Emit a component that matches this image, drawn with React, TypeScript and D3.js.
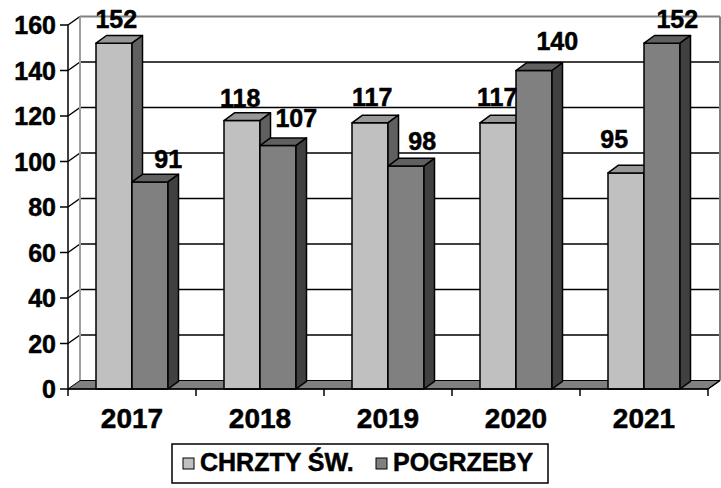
import * as d3 from "d3";

const years = ["2017", "2018", "2019", "2020", "2021"];
const seriesNames = ["CHRZTY ŚW.", "POGRZEBY"];
const chrzty = [152, 118, 117, 117, 95];
const pogrzeby = [91, 107, 98, 140, 152];
const yTicks = [0, 20, 40, 60, 80, 100, 120, 140, 160];

// label nudges (dx, extra lift), Excel moved them around
const lightNudge = [[-3, 0], [-7, -2], [-3, 1], [-6, 1], [-17, 9]];
const darkNudge = [[13, -2], [13, 3], [11, 0], [18, 5], [10, 0]];

const W = 721;
const H = 488;
const left = 68;
const right = 708;
const bottom = 389;
const top = 25;
const floorD = { dx: 12, dy: -8.5 };
const barD = { dx: 10.5, dy: -7.7 };

const palette = [
  { front: "#c0c0c0", top: "#979797", side: "#606060" },
  { front: "#808080", top: "#606060", side: "#404040" },
];

const FONT = "'Liberation Sans', Arial, sans-serif";
const textStyle = { fontFamily: FONT, fontWeight: "bold" as const, stroke: "#000", strokeWidth: 0.5 };

export default function App() {
  const x = d3.scaleBand<string>().domain(years).range([left, right]).paddingInner(0.4375).paddingOuter(0.21875);
  const sub = d3.scaleBand<number>().domain([0, 1]).range([0, x.bandwidth()]);
  const y = d3.scaleLinear().domain([0, 160]).range([bottom, top]);
  const step = x.step();
  const values = [chrzty, pogrzeby];
  const nudges = [lightNudge, darkNudge];
  const pts = (a: number[][]) => a.map((p) => p.join(",")).join(" ");

  return (
    <svg width={W} height={H} style={{ position: "absolute", left: 0, top: 0, background: "#fff" }}>
      {/* back wall gridlines */}
      {yTicks.slice(1).map((t) => (
        <g key={t}>
          <line x1={left} y1={y(t)} x2={left + floorD.dx} y2={y(t) + floorD.dy} stroke="#000" strokeWidth={1.5} />
          <line
            x1={left + floorD.dx}
            y1={y(t) + floorD.dy}
            x2={right + floorD.dx}
            y2={y(t) + floorD.dy}
            stroke={t === 160 ? "#808080" : "#000"}
            strokeWidth={t === 160 ? 2 : 1.5}
          />
        </g>
      ))}
      <line x1={left + floorD.dx} y1={bottom + floorD.dy} x2={left + floorD.dx} y2={y(160) + floorD.dy} stroke="#a0a0a0" strokeWidth={2} />
      <line x1={right + floorD.dx} y1={bottom + floorD.dy} x2={right + floorD.dx} y2={y(160) + floorD.dy} stroke="#808080" strokeWidth={2} />
      {/* floor */}
      <polygon
        points={pts([[left, bottom], [right, bottom], [right + floorD.dx, bottom + floorD.dy], [left + floorD.dx, bottom + floorD.dy]])}
        fill="#808080"
        stroke="#000"
        strokeWidth={1}
      />
      {/* bars */}
      {years.map((yr, i) => (
        <g key={yr}>
          {values.map((vals, s) => {
            const x0 = (x(yr) ?? 0) + (sub(s) ?? 0);
            const x1 = x0 + sub.bandwidth();
            const yt = y(vals[i]);
            const c = palette[s];
            return (
              <g key={s} stroke="#000" strokeWidth={1.5} strokeLinejoin="round">
                <rect x={x0} y={yt} width={x1 - x0} height={bottom - yt} fill={c.front} />
                <polygon points={pts([[x0, yt], [x1, yt], [x1 + barD.dx, yt + barD.dy], [x0 + barD.dx, yt + barD.dy]])} fill={c.top} />
                <polygon
                  points={pts([[x1, yt], [x1 + barD.dx, yt + barD.dy], [x1 + barD.dx, bottom + barD.dy], [x1, bottom]])}
                  fill={c.side}
                />
              </g>
            );
          })}
        </g>
      ))}
      {/* axes */}
      <line x1={left} y1={y(160)} x2={left} y2={bottom + 7} stroke="#000" strokeWidth={1.5} />
      <line x1={left} y1={bottom} x2={right} y2={bottom} stroke="#000" strokeWidth={1.5} />
      <line x1={right} y1={bottom} x2={right + floorD.dx} y2={bottom + floorD.dy} stroke="#000" strokeWidth={1.5} />
      {yTicks.map((t) => (
        <g key={t}>
          <line x1={left - 8} y1={y(t)} x2={left} y2={y(t)} stroke="#000" strokeWidth={1.5} />
          <text x={left - 12} y={y(t)} dy="0.36em" textAnchor="end" fontSize={25} {...textStyle}>
            {t}
          </text>
        </g>
      ))}
      {years.map((yr, i) => (
        <line key={yr} x1={left + step * (i + 1)} y1={bottom} x2={left + step * (i + 1)} y2={bottom + 7} stroke="#000" strokeWidth={1.5} />
      ))}
      {years.map((yr) => (
        <text key={yr} x={(x(yr) ?? 0) + x.bandwidth() / 2} y={428} textAnchor="middle" fontSize={28} {...textStyle}>
          {yr}
        </text>
      ))}
      {/* value labels */}
      {years.map((yr, i) =>
        values.map((vals, s) => {
          const x0 = (x(yr) ?? 0) + (sub(s) ?? 0);
          const cx = x0 + sub.bandwidth() / 2 + barD.dx / 2 + nudges[s][i][0];
          const by = y(vals[i]) + barD.dy - 8 - nudges[s][i][1];
          return (
            <text key={`${yr}-${s}`} x={cx} y={by} textAnchor="middle" fontSize={25} {...textStyle}>
              {vals[i]}
            </text>
          );
        })
      )}
      {/* legend */}
      <rect x={172} y={444} width={376} height={39} fill="#fff" stroke="#000" strokeWidth={1.5} />
      {seriesNames.map((name, s) => {
        const lx = s === 0 ? 183 : 376;
        return (
          <g key={name}>
            <rect x={lx} y={458} width={11} height={11} fill={palette[s].front} stroke="#000" strokeWidth={1} />
            <text x={lx + 17} y={471} fontSize={25} {...textStyle}>
              {name}
            </text>
          </g>
        );
      })}
    </svg>
  );
}
